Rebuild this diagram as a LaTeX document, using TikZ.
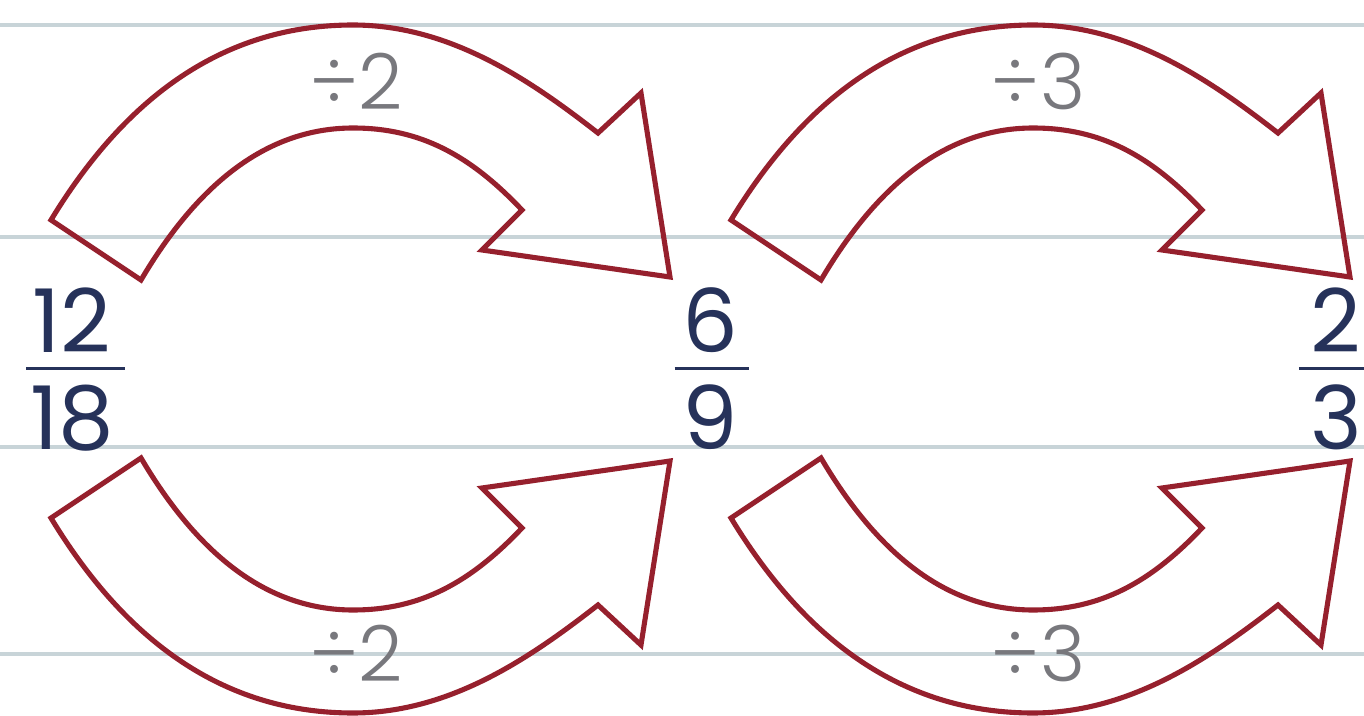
\documentclass[tikz,border=0pt]{standalone}
\usepackage{fontspec}
\setmainfont{Poppins}
\newfontfamily\thinfont{Poppins}[UprightFont={* Light}]
\usepackage{xcolor}
\definecolor{arrowred}{RGB}{150,32,45}
\definecolor{fracnavy}{RGB}{38,50,90}
\definecolor{stepgray}{RGB}{120,120,125}
\definecolor{ruleblue}{RGB}{200,212,216}
\usepackage{tikz}
\usetikzlibrary{positioning}

\tikzset{
  ruling/.style={draw=ruleblue, line width=0.9pt},
  blockarrow/.style={draw=arrowred, line width=1.45pt, line join=miter},
  fracdigit/.style={text=fracnavy, font=\fontsize{25}{27}\selectfont, inner sep=0pt},
  fracbar/.style={draw=fracnavy, line width=0.9pt},
  steplabel/.style={text=stepgray, font=\thinfont\fontsize{22}{24}\selectfont, inner sep=1pt},
  pics/curvearrow/.style={code={
    \draw[blockarrow] (-3.02,1.49) .. controls (-2.23,2.79) and (-1.23,3.44) .. (0,3.44)
      .. controls (0.97,3.44) and (1.77,2.89) .. (2.45,2.36)
      -- (2.88,2.76) -- (3.17,0.92) -- (1.29,1.19) -- (1.69,1.59)
      .. controls (1.17,2.14) and (0.67,2.41) .. (0,2.41)
      .. controls (-0.83,2.41) and (-1.53,1.89) .. (-2.12,0.89) -- cycle;
  }}
}

\begin{document}
\begin{tikzpicture}
  \useasboundingbox (0,0) rectangle (13.64,7.15);

  % ruled lines
  \foreach \y in {6.90,4.78,2.68,0.61}
    \draw[ruling] (0,\y) -- (13.64,\y);

  % --- fractions ---
  \node[fracdigit] (n12) at (0.72,3.95) {12};
  \node[fracdigit, below=0.31cm of n12] (d18) {18};
  \path (n12.south) -- (d18.north) coordinate[midway] (b12);
  \draw[fracbar] ([xshift=-1pt]b12 -| d18.west) -- ([xshift=3pt]b12 -| d18.east);

  \node[fracdigit] (n6) at (7.10,3.95) {6};
  \node[fracdigit, below=0.31cm of n6] (d9) {9};
  \path (n6.south) -- (d9.north) coordinate[midway] (b6);
  \draw[fracbar] ([xshift=-2pt]b6 -| d9.west) -- ([xshift=3pt]b6 -| d9.east);

  \node[fracdigit] (n2) at (13.36,3.95) {2};
  \node[fracdigit, below=0.31cm of n2] (d3) {3};
  \path (n2.south) -- (d3.north) coordinate[midway] (b2);
  \draw[fracbar] ([xshift=-3pt]b2 -| d3.west) -- ([xshift=6pt]b2 -| d3.east);

  % --- arrows: 12/18 to 6/9 ---
  \pic at (3.53,3.46) {curvearrow};
  \pic[yscale=-1] at (3.53,3.46) {curvearrow};
  \node[steplabel] (topA) at (3.56,6.34) {÷2};
  \node[steplabel] (botA) at (3.56,0.62) {÷2};

  % --- arrows: 6/9 to 2/3 ---
  \pic at (10.33,3.46) {curvearrow};
  \pic[yscale=-1] at (10.33,3.46) {curvearrow};
  \node[steplabel] (topB) at (10.38,6.34) {÷3};
  \node[steplabel] (botB) at (10.38,0.62) {÷3};
\end{tikzpicture}
\end{document}
